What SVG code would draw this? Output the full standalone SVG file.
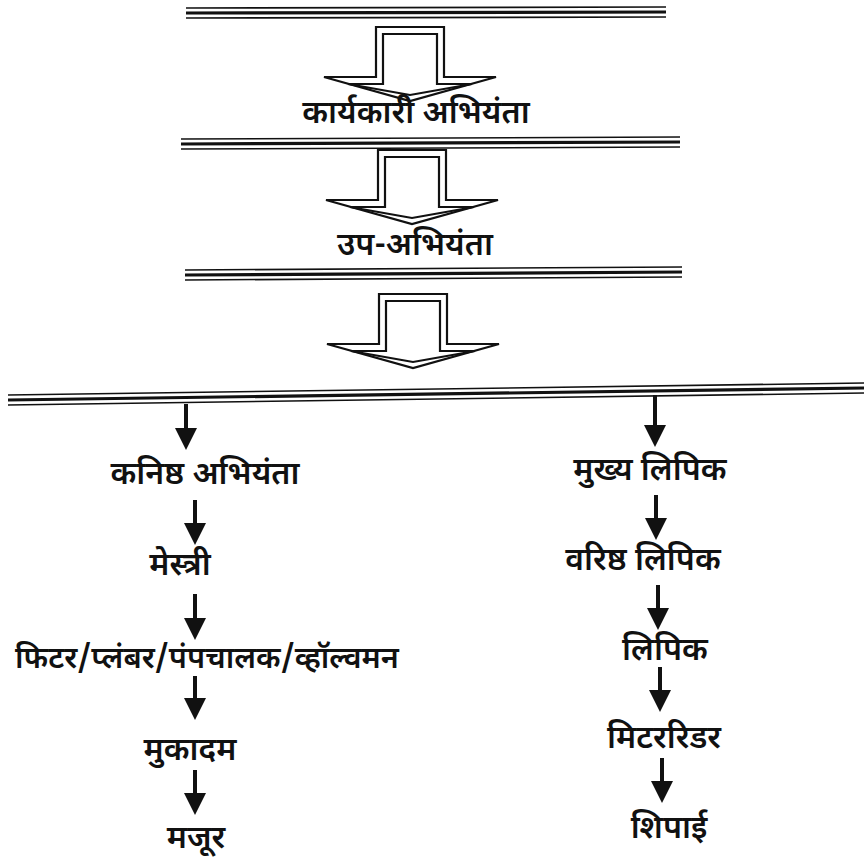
<svg xmlns="http://www.w3.org/2000/svg" width="864" height="865" viewBox="0 0 864 865">
<style>
.thin{stroke:#111;stroke-width:1.6}
.thick{stroke:#111;stroke-width:3.2}
.blk{fill:#fff;stroke:#111;stroke-width:2.2;stroke-linejoin:miter}
.lbl{font-family:"Noto Sans Devanagari","Lohit Devanagari","Noto Sans","DejaVu Sans",sans-serif;font-size:32px;font-weight:600;fill:#111;text-anchor:middle}
.conn{stroke:#111;stroke-width:4;fill:none}
</style>
<defs>
<g id="bigArrow">
<path class="blk" d="M-34,0 H34 V50 H86 L0,74 L-86,50 H-34 Z"/>
<path class="blk" d="M-27,7 H27 V57 H62 L0,68 L-62,57 H-27 Z"/>
</g>
<marker id="ah" markerUnits="userSpaceOnUse" markerWidth="24" markerHeight="24" refX="1" refY="11" orient="auto" viewBox="0 0 24 24">
<path d="M0,0 L22,11 L0,22 Z" fill="#111"/>
</marker>
</defs>

<g id="bars">
<g id="bar1"><line class="thin" x1="186" y1="8" x2="666" y2="7"/><line class="thick" x1="186" y1="13" x2="666" y2="12"/><line class="thin" x1="186" y1="18" x2="666" y2="17"/></g>
<g id="bar2"><line class="thin" x1="181" y1="139" x2="680" y2="137"/><line class="thick" x1="181" y1="144" x2="680" y2="142"/><line class="thin" x1="181" y1="149" x2="680" y2="147"/></g>
<g id="bar3"><line class="thin" x1="185" y1="270" x2="682" y2="267"/><line class="thick" x1="185" y1="275" x2="682" y2="272"/><line class="thin" x1="185" y1="280" x2="682" y2="277"/></g>
<g id="bar4"><line class="thin" x1="8" y1="395" x2="864" y2="383"/><line class="thick" x1="8" y1="400" x2="864" y2="388"/><line class="thin" x1="8" y1="405" x2="864" y2="393"/></g>
</g>

<g id="blockArrows">
<use href="#bigArrow" transform="translate(410,27)"/>
<use href="#bigArrow" transform="translate(412,150)"/>
<use href="#bigArrow" transform="translate(413,294)"/>
</g>

<g id="connectors">
<line class="conn" x1="186" y1="404" x2="186" y2="429" marker-end="url(#ah)"/>
<line class="conn" x1="655" y1="395" x2="655" y2="426" marker-end="url(#ah)"/>
<line class="conn" x1="195" y1="500" x2="195" y2="524" marker-end="url(#ah)"/>
<line class="conn" x1="195" y1="594" x2="195" y2="619" marker-end="url(#ah)"/>
<line class="conn" x1="195" y1="676" x2="195" y2="699" marker-end="url(#ah)"/>
<line class="conn" x1="195" y1="770" x2="195" y2="794" marker-end="url(#ah)"/>
<line class="conn" x1="656" y1="495" x2="656" y2="519" marker-end="url(#ah)"/>
<line class="conn" x1="658" y1="585" x2="658" y2="609" marker-end="url(#ah)"/>
<line class="conn" x1="660" y1="667" x2="660" y2="691" marker-end="url(#ah)"/>
<line class="conn" x1="662" y1="758" x2="662" y2="782" marker-end="url(#ah)"/>
</g>

<g id="n_karyakari"><text class="lbl" x="416" y="123">कार्यकारी अभियंता</text></g>
<g id="n_upabhiyanta"><text class="lbl" x="415" y="255">उप-अभियंता</text></g>
<g id="n_kanishtha"><text class="lbl" x="205" y="484">कनिष्ठ अभियंता</text></g>
<g id="n_mestri"><text class="lbl" x="180" y="575">मेस्त्री</text></g>
<g id="n_fitter"><text class="lbl" x="207" y="668" style="font-size:30.5px">फिटर/प्लंबर/पंपचालक/व्हॉल्वमन</text></g>
<g id="n_mukadam"><text class="lbl" x="190" y="760">मुकादम</text></g>
<g id="n_majur"><text class="lbl" x="196" y="848">मजूर</text></g>
<g id="n_mukhya"><text class="lbl" x="650" y="480">मुख्य लिपिक</text></g>
<g id="n_varishtha"><text class="lbl" x="643" y="570">वरिष्ठ लिपिक</text></g>
<g id="n_lipik"><text class="lbl" x="665" y="660">लिपिक</text></g>
<g id="n_meter"><text class="lbl" x="664" y="748">मिटररिडर</text></g>
<g id="n_shipai"><text class="lbl" x="669" y="838">शिपाई</text></g>
</svg>
